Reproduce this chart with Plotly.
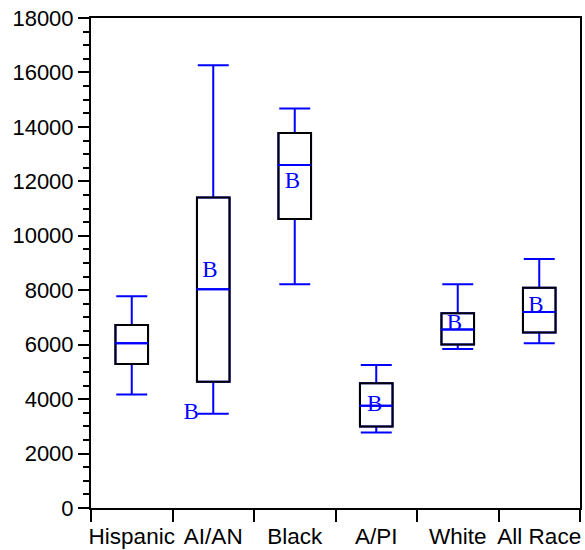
import plotly.graph_objects as go

categories = ["Hispanic", "AI/AN", "Black", "A/PI", "White", "All Race"]
lower_whisker = [4170, 3460, 8220, 2770, 5840, 6050]
q1 = [5290, 4640, 10620, 2990, 6010, 6450]
median = [6050, 8040, 12600, 3760, 6560, 7200]
q3 = [6720, 11410, 13780, 4580, 7150, 8090]
upper_whisker = [7780, 16260, 14680, 5250, 8220, 9150]

# "B" symbols: (category index, value, horizontal offset in category units)
b_cat = [1, 1, 2, 3, 4, 5]
b_val = [8680, 3470, 11950, 3780, 6760, 7420]
b_off = [-0.04, -0.27, -0.03, -0.02, -0.04, -0.04]

BLUE = "#0000ff"
xs = list(range(len(categories)))
fig = go.Figure()

for i in xs:
    fig.add_trace(go.Box(
        x=[i], q1=[q1[i]], median=[median[i]], q3=[q3[i]],
        lowerfence=[lower_whisker[i]], upperfence=[upper_whisker[i]],
        width=0.4, whiskerwidth=0.95,
        line=dict(color=BLUE, width=2), fillcolor="rgba(0,0,0,0)",
        boxpoints=False, showlegend=False, hoverinfo="skip",
    ))
    fig.add_shape(type="rect", xref="x", yref="y",
                  x0=i - 0.2, x1=i + 0.2, y0=q1[i], y1=q3[i],
                  line=dict(color="black", width=2), layer="above")
    fig.add_shape(type="line", xref="x", yref="y",
                  x0=i - 0.21, x1=i + 0.2, y0=median[i], y1=median[i],
                  line=dict(color=BLUE, width=2), layer="above")

fig.add_trace(go.Scatter(
    x=[c + o for c, o in zip(b_cat, b_off)], y=b_val, mode="text", text=["B"] * len(b_val),
    textfont=dict(family="Liberation Serif, Times New Roman, serif", size=23, color=BLUE),
    textposition="middle center", showlegend=False, hoverinfo="skip",
))

fig.update_layout(
    width=585, height=550,
    margin=dict(l=91, r=5, t=18, b=42),
    paper_bgcolor="white", plot_bgcolor="white",
    font=dict(family="Liberation Sans, Arial, sans-serif", size=22, color="black"),
    xaxis=dict(
        range=[-0.5, 5.5], tickmode="array", tickvals=xs, ticktext=categories,
        tickfont=dict(size=22.5), ticklabelstandoff=7,
        ticks="", showgrid=False, zeroline=False, automargin=False,
        showline=True, linecolor="black", linewidth=2, mirror=True,
        minor=dict(tickmode="array", tickvals=[-0.5, 0.5, 1.5, 2.5, 3.5, 4.5, 5.5],
                   ticks="outside", ticklen=12, tickwidth=2, tickcolor="black", showgrid=False),
    ),
    yaxis=dict(
        range=[0, 18000], tickmode="linear", tick0=0, dtick=2000, tickformat="d",
        ticks="outside", ticklen=11, tickwidth=2, tickcolor="black",
        showgrid=False, zeroline=False, automargin=False,
        showline=True, linecolor="black", linewidth=2, mirror=True,
        minor=dict(dtick=500, ticks="outside", ticklen=6, tickwidth=2, tickcolor="black", showgrid=False),
    ),
)

fig.write_html("out.html", config={"displayModeBar": False},
               post_script="document.body.style.margin='0';")
